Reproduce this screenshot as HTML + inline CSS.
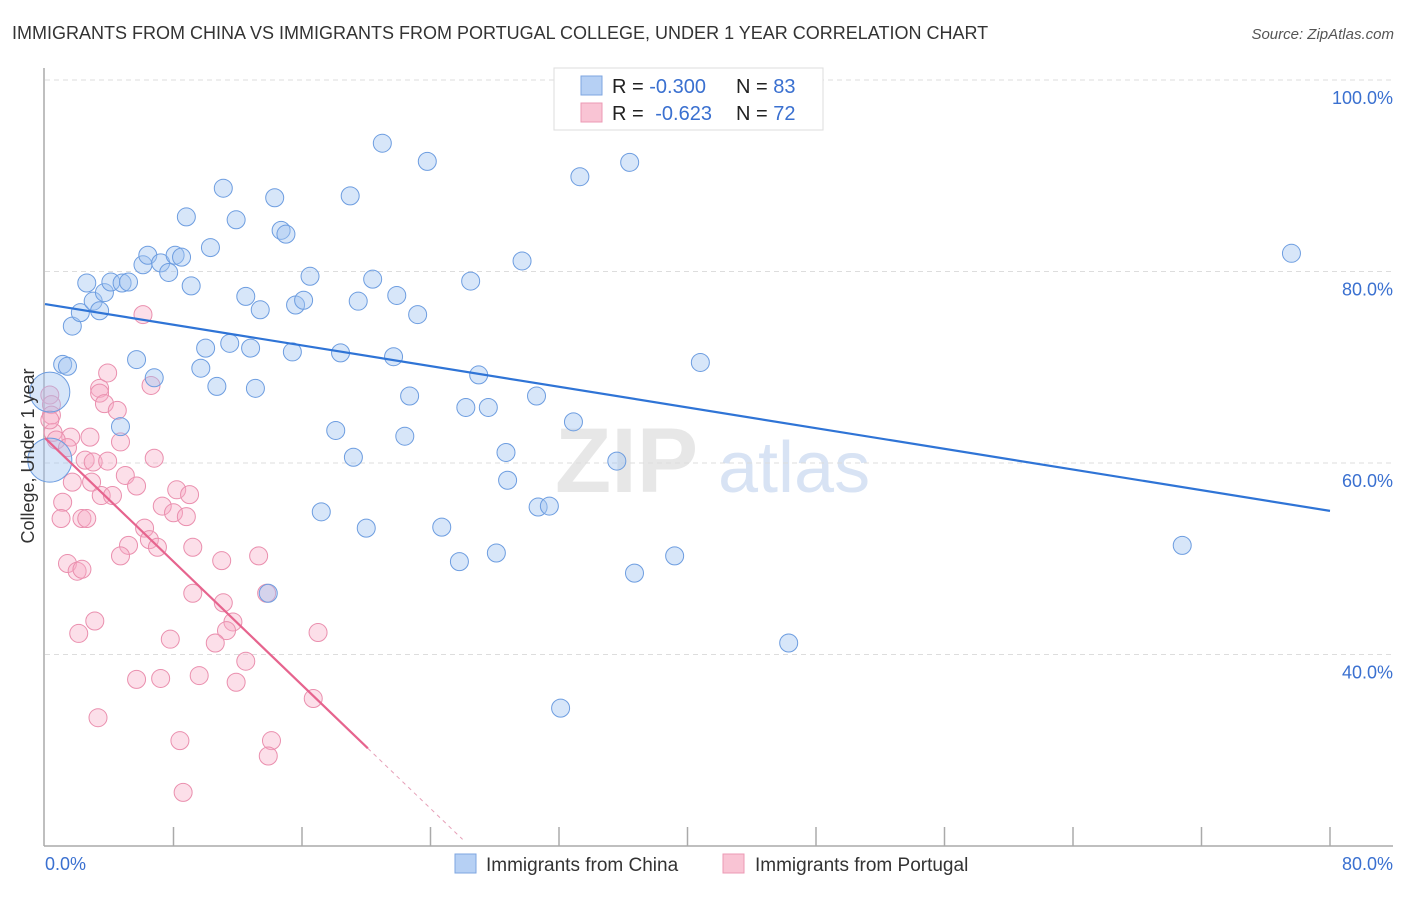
<!DOCTYPE html>
<html><head><meta charset="utf-8"><style>
body{margin:0;background:#fff;font-family:"Liberation Sans",sans-serif;}
svg text{font-family:"Liberation Sans",sans-serif;}
</style></head><body>
<svg id="chart" width="1406" height="892" xmlns="http://www.w3.org/2000/svg">
<text x="12" y="39" font-size="18" fill="#333">IMMIGRANTS FROM CHINA VS IMMIGRANTS FROM PORTUGAL COLLEGE, UNDER 1 YEAR CORRELATION CHART</text>
<text x="1394" y="39" font-size="15" fill="#555" font-style="italic" text-anchor="end">Source: ZipAtlas.com</text>
<g><text x="555" y="492" font-size="92" fill="#ddd" font-family="Liberation Serif" font-weight="bold" opacity="0.7">ZIP</text><text x="718" y="492" font-size="72" fill="#c8d8f0" opacity="0.7">atlas</text></g>
<g id="grid"></g>
<g id="axes"></g>
<g id="pinkpts"></g>
<g id="bluepts"></g>
<g id="lines"></g>
<text transform="translate(34,456) rotate(-90)" font-size="18" fill="#333" text-anchor="middle">College, Under 1 year</text>
<g>
<rect x="554" y="68" width="269" height="62" fill="#fff" stroke="#ddd"/>
<rect x="581" y="76" width="21" height="19" fill="#b6d0f4" stroke="#7ea6e0"/>
<rect x="581" y="103" width="21" height="19" fill="#f9c4d4" stroke="#ec9ab4"/>
<text x="612" y="93" font-size="20" fill="#222">R = <tspan fill="#3a70d0">-0.300</tspan></text>
<text x="736" y="93" font-size="20" fill="#222">N = <tspan fill="#3a70d0">83</tspan></text>
<text x="612" y="120" font-size="20" fill="#222">R = <tspan fill="#3a70d0" dx="6">-0.623</tspan></text>
<text x="736" y="120" font-size="20" fill="#222">N = <tspan fill="#3a70d0">72</tspan></text>
</g>
<g>
<rect x="455" y="854" width="21" height="19" fill="#b6d0f4" stroke="#7ea6e0"/>
<text x="486" y="871" font-size="19" fill="#333">Immigrants from China</text>
<rect x="723" y="854" width="21" height="19" fill="#f9c4d4" stroke="#ec9ab4"/>
<text x="755" y="871" font-size="19" fill="#333">Immigrants from Portugal</text>
</g>
</svg>
<script>
const yTicks=[100,80,60,40];
const yTickLabels=["100.0%","80.0%","60.0%","40.0%"];
const xTicks=[0,8,16,24,32,40,48,56,64,72,80];
const chinaX=[0.3,0.3,1.1,1.4,1.7,2.2,2.6,3.0,3.4,3.7,4.1,4.8,5.2,4.7,5.7,6.1,6.4,6.8,7.2,7.7,8.1,8.5,8.8,9.1,9.7,10.0,10.3,10.7,11.1,11.5,11.9,12.8,12.5,13.1,13.4,13.9,14.3,14.7,15.0,15.4,15.6,16.1,16.5,17.2,18.1,18.4,19.0,19.2,19.5,20.0,20.4,21.0,21.7,21.9,22.4,22.7,23.2,23.8,24.7,25.8,26.2,26.5,27.0,27.6,28.1,28.8,28.7,29.7,30.6,30.7,31.4,32.1,32.9,33.3,35.6,36.4,36.7,39.2,40.8,46.3,70.8,77.6,34.4];
const chinaY=[67.4,60.3,70.3,70.1,74.3,75.7,78.8,76.9,75.9,77.8,78.9,78.8,78.9,63.8,70.8,80.7,81.7,68.9,80.9,79.9,81.7,81.5,85.7,78.5,69.9,72.0,82.5,68.0,88.7,72.5,85.4,72.0,77.4,67.8,76.0,46.4,87.7,84.3,83.9,71.6,76.5,77.0,79.5,54.9,63.4,71.5,87.9,60.6,76.9,53.2,79.2,93.4,71.1,77.5,62.8,67.0,75.5,91.5,53.3,49.7,65.8,79.0,69.2,65.8,50.6,58.2,61.1,81.1,67.0,55.4,55.5,34.4,64.3,89.9,60.2,91.4,48.5,50.3,70.5,41.2,51.4,81.9,98.2];
const chinaSize=[20,22];
const portX=[6.1,3.9,3.4,3.4,3.7,6.6,4.5,0.3,0.4,0.4,0.5,0.3,1.6,2.8,4.7,0.7,1.4,2.5,3.0,3.9,6.8,5.0,5.7,1.7,2.9,3.5,4.2,8.2,9.0,7.3,8.0,8.8,1.1,1.0,2.3,2.6,6.2,6.5,7.0,5.2,4.7,9.2,11.0,13.3,1.4,2.0,2.3,9.2,11.1,13.8,11.7,11.3,3.1,2.1,7.8,10.6,17.0,12.5,5.7,7.2,9.6,11.9,16.7,3.3,8.4,14.1,13.9,8.6];
const portY=[75.5,69.4,67.8,67.3,66.2,68.1,65.5,67.1,66.1,65.0,63.2,64.5,62.7,62.7,62.2,62.4,61.6,60.3,60.1,60.2,60.5,58.7,57.6,58.0,58.0,56.6,56.6,57.2,56.7,55.5,54.8,54.4,55.9,54.2,54.2,54.2,53.2,52.0,51.2,51.4,50.3,51.2,49.8,50.3,49.5,48.7,48.9,46.4,45.4,46.4,43.4,42.5,43.5,42.2,41.6,41.2,42.3,39.3,37.4,37.5,37.8,37.1,35.4,33.4,31.0,31.0,29.4,25.6];
const chinaTrend=[76.6,55.0];   // y at x=0 and x=80
const portTrend=[62.6,30.2,20.1,26.0]; // y0, y at end solid, x solid end, x dashed end
const NS="http://www.w3.org/2000/svg";
const X0=45,X1=1330,Y100=80,PXPER=9.575;
const sx=v=>X0+(v/80)*(X1-X0);
const sy=v=>Y100+(100-v)*PXPER;
function mk(tag,attrs,parent){const e=document.createElementNS(NS,tag);for(const k in attrs)e.setAttribute(k,attrs[k]);parent.appendChild(e);return e;}
const grid=document.getElementById('grid');
yTicks.forEach((t,i)=>{
 const l=mk('line',{x1:X0,x2:1393,y1:sy(t),y2:sy(t),stroke:'#ddd','stroke-dasharray':'5,4'},grid);
 
 
 const tx=mk('text',{x:1393,y:sy(t)+24,'font-size':18,fill:'#3a70d0','text-anchor':'end'},grid);
 tx.textContent=yTickLabels[i];
 
 
});
const axes=document.getElementById('axes');
let a=mk('line',{x1:X0-1,x2:X0-1,y1:68,y2:sy(20),stroke:'#aaa','stroke-width':1.5},axes);


a=mk('line',{x1:X0-1,x2:1393,y1:sy(20),y2:sy(20),stroke:'#aaa','stroke-width':1.5},axes);


xTicks.forEach(t=>{if(t===0)return;const tk=mk('line',{x1:sx(t),x2:sx(t),y1:sy(20)-19,y2:sy(20),stroke:'#aaa','stroke-width':1.5},axes);
 
 });
let xl=mk('text',{x:45,y:870,'font-size':18,fill:'#3a70d0'},axes);xl.textContent='0.0%';


xl=mk('text',{x:1393,y:870,'font-size':18,fill:'#3a70d0','text-anchor':'end'},axes);xl.textContent='80.0%';


const pp=document.getElementById('pinkpts');
portX.forEach((x,i)=>{const c=mk('circle',{cx:sx(x),cy:sy(portY[i]),r:9,fill:'rgba(246,172,198,0.38)',stroke:'#ea8fae','stroke-width':1},pp);
 
 });
const bp=document.getElementById('bluepts');
chinaX.forEach((x,i)=>{const c=mk('circle',{cx:sx(x),cy:sy(chinaY[i]),r:chinaSize[i]||9,fill:'rgba(160,196,240,0.42)',stroke:'#6d9de0','stroke-width':1},bp);
 
 });
const lg=document.getElementById('lines');
let ln=mk('line',{x1:sx(0),y1:sy(chinaTrend[0]),x2:sx(80),y2:sy(chinaTrend[1]),stroke:'#2f74d6','stroke-width':2.2},lg);


const slope=(portTrend[1]-portTrend[0])/portTrend[2];
ln=mk('line',{x1:sx(0),y1:sy(portTrend[0]),x2:sx(portTrend[2]),y2:sy(portTrend[1]),stroke:'#e6648e','stroke-width':2.2},lg);


ln=mk('line',{x1:sx(portTrend[2]),y1:sy(portTrend[1]),x2:sx(portTrend[3]),y2:sy(portTrend[0]+slope*portTrend[3]),stroke:'#e6a0b8','stroke-width':1,'stroke-dasharray':'4,4'},lg);


</script>
</body></html>
